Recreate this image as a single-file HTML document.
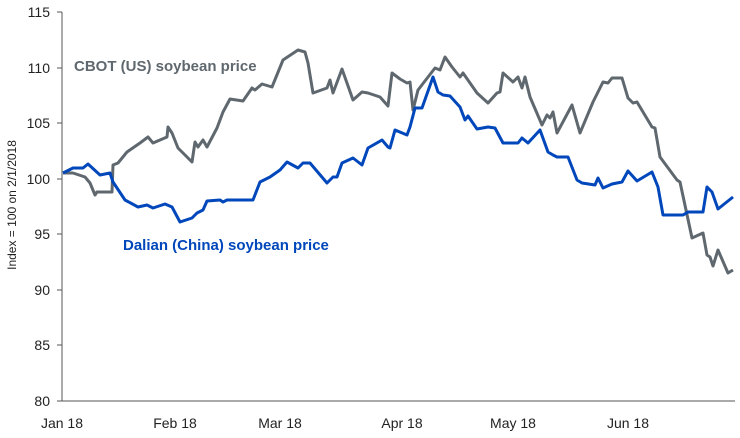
<!DOCTYPE html>
<html><head><meta charset="utf-8"><style>
html,body{margin:0;padding:0;background:#fff;}
svg{display:block;font-family:"Liberation Sans",Arial,sans-serif;}
</style></head><body>
<svg width="740" height="438" viewBox="0 0 740 438">
<g stroke="#555" stroke-width="1">
<line x1="62" y1="12" x2="62" y2="401"/>
<line x1="62" y1="401" x2="735" y2="401"/>
<line x1="57" y1="12" x2="62" y2="12"/><line x1="57" y1="68" x2="62" y2="68"/>
<line x1="57" y1="123" x2="62" y2="123"/><line x1="57" y1="179" x2="62" y2="179"/>
<line x1="57" y1="234" x2="62" y2="234"/><line x1="57" y1="290" x2="62" y2="290"/>
<line x1="57" y1="345" x2="62" y2="345"/><line x1="57" y1="401" x2="62" y2="401"/>
</g>
<g font-size="14" fill="#222" text-anchor="end">
<text x="50" y="17">115</text><text x="50" y="73">110</text><text x="50" y="128">105</text>
<text x="50" y="184">100</text><text x="50" y="239">95</text><text x="50" y="295">90</text>
<text x="50" y="350">85</text><text x="50" y="406">80</text>
</g>
<g font-size="14" fill="#222" text-anchor="middle">
<text x="62" y="428">Jan 18</text><text x="175" y="428">Feb 18</text><text x="280" y="428">Mar 18</text>
<text x="402" y="428">Apr 18</text><text x="513" y="428">May 18</text><text x="628" y="428">Jun 18</text>
</g>
<text transform="translate(16,205) rotate(-90)" font-size="12" fill="#222" text-anchor="middle">Index = 100 on 2/1/2018</text>
<text x="74" y="71" font-size="15" font-weight="bold" fill="#5f686e">CBOT (US) soybean price</text>
<text x="123" y="250" font-size="15" font-weight="bold" fill="#0047bb">Dalian (China) soybean price</text>
<polyline fill="none" stroke="#5f686e" stroke-width="3" stroke-linejoin="round" points="63,173 73,173 85,177 90,183 95,195 97,192 112,192 113,165 118,163 127,152 140,143 148,137 153,143 167,137 168,127 172,133 178,148 192,162 195,142 198,147 203,140 207,147 217,128 223,112 230,99 243,101 252,88 255,90 262,84 272,87 283,60 298,50 305,52 308,63 313,93 327,88 330,80 333,93 342,69 353,100 362,92 368,93 380,97 388,106 392,73 400,79 407,83 410,82 413,110 418,90 435,68 440,70 445,57 452,67 460,77 463,73 477,93 488,103 497,93 500,92 503,73 513,82 518,77 522,88 525,77 530,97 542,125 547,115 550,118 553,112 557,133 572,105 580,133 593,102 603,82 608,83 612,78 622,78 628,98 633,103 637,102 652,127 655,128 660,157 677,180 680,182 692,238 703,233 707,255 710,257 713,266 718,250 728,273 733,270"/>
<polyline fill="none" stroke="#0047bb" stroke-width="3" stroke-linejoin="round" points="63,173 73,168 83,168 88,164 100,175 110,173 113,182 125,200 138,207 147,205 153,208 165,204 172,207 180,222 192,218 197,213 203,210 207,201 220,200 223,202 227,200 253,200 260,182 270,177 280,170 287,162 298,168 303,163 310,163 327,183 333,177 337,177 342,163 353,158 362,165 368,148 382,140 388,147 390,148 395,130 407,135 410,127 415,108 422,108 433,77 438,92 443,95 450,96 460,107 465,120 468,116 477,129 488,127 495,128 503,143 518,143 522,138 528,143 540,130 548,152 553,155 557,157 568,157 577,180 582,183 595,185 598,178 603,188 612,184 622,182 628,171 637,181 652,172 658,187 663,215 683,215 688,212 703,212 707,187 712,192 718,209 733,197"/>
</svg>
</body></html>
